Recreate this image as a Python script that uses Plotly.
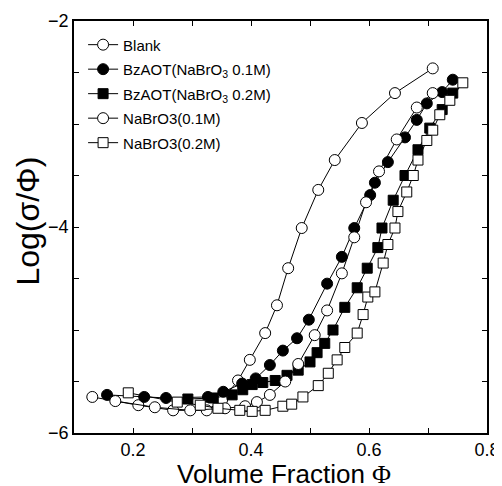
import plotly.graph_objects as go

# ---- data ----
blank_x = [0.131, 0.209, 0.268, 0.325, 0.351, 0.378, 0.398, 0.424, 0.444, 0.463,
           0.486, 0.514, 0.542, 0.588, 0.644, 0.708]
blank_y = [-5.65, -5.73, -5.78, -5.78, -5.68, -5.49, -5.29, -5.03, -4.76, -4.40,
           -4.01, -3.64, -3.35, -2.99, -2.70, -2.46]

bz1_x = [0.156, 0.219, 0.256, 0.327, 0.353, 0.385, 0.408, 0.432, 0.454, 0.478,
         0.498, 0.529, 0.554, 0.575, 0.602, 0.610, 0.632, 0.661, 0.681, 0.698,
         0.724, 0.742]
bz1_y = [-5.63, -5.65, -5.66, -5.65, -5.60, -5.52, -5.47, -5.34, -5.20, -5.08,
         -4.90, -4.55, -4.29, -4.01, -3.69, -3.57, -3.37, -3.13, -2.96, -2.80,
         -2.69, -2.57]

bz2_x = [0.293, 0.336, 0.368, 0.386, 0.402, 0.420, 0.441, 0.461, 0.480, 0.500,
         0.512, 0.525, 0.539, 0.559, 0.580, 0.597, 0.615, 0.622, 0.641, 0.661,
         0.683, 0.703, 0.724, 0.742]
bz2_y = [-5.67, -5.66, -5.63, -5.58, -5.53, -5.51, -5.49, -5.44, -5.39, -5.31,
         -5.22, -5.13, -5.00, -4.78, -4.59, -4.40, -4.20, -4.01, -3.74, -3.50,
         -3.25, -3.04, -2.86, -2.70]

na1_x = [0.170, 0.237, 0.297, 0.356, 0.390, 0.410, 0.432, 0.458, 0.480, 0.508,
         0.529, 0.554, 0.575, 0.595, 0.617, 0.647, 0.681, 0.708]
na1_y = [-5.69, -5.75, -5.78, -5.76, -5.74, -5.70, -5.63, -5.50, -5.33, -5.05,
         -4.81, -4.45, -4.10, -3.76, -3.46, -3.15, -2.84, -2.70]

na2_x = [0.192, 0.275, 0.314, 0.344, 0.381, 0.402, 0.424, 0.454, 0.469, 0.488,
         0.514, 0.531, 0.546, 0.559, 0.580, 0.590, 0.598, 0.610, 0.624, 0.632,
         0.644, 0.649, 0.664, 0.675, 0.683, 0.698, 0.708, 0.720, 0.737, 0.759]
na2_y = [-5.61, -5.70, -5.73, -5.76, -5.78, -5.79, -5.78, -5.74, -5.72, -5.65,
         -5.54, -5.42, -5.29, -5.17, -5.03, -4.85, -4.68, -4.63, -4.35, -4.17,
         -4.01, -3.85, -3.66, -3.50, -3.35, -3.16, -3.06, -2.91, -2.77, -2.60]

names = ["Blank", "BzAOT(NaBrO<sub>3</sub> 0.1M)", "BzAOT(NaBrO<sub>3</sub> 0.2M)",
         "NaBrO3(0.1M)", "NaBrO3(0.2M)"]

x_ticks = [0.2, 0.4, 0.6, 0.8]
y_ticks = [-6, -4, -2]

x_title = "Volume Fraction <span style='font-family:Liberation Serif'>Φ</span>"
y_title = "Log(σ/Φ)"

series = [
    (blank_x, blank_y, "circle", "white"),
    (bz1_x, bz1_y, "circle", "black"),
    (bz2_x, bz2_y, "square", "black"),
    (na1_x, na1_y, "circle", "white"),
    (na2_x, na2_y, "square", "white"),
]

fig = go.Figure()
for i, ((xs, ys, sym, fill), nm) in enumerate(zip(series, names)):
    fig.add_trace(go.Scatter(
        x=xs, y=ys, name=nm, mode="lines+markers", legendgroup=f"g{i}",
        line=dict(color="black", width=1),
        marker=dict(symbol=sym, size=11 if sym == "circle" else 10, color=fill,
                    line=dict(color="black", width=1)),
    ))

axis_common = dict(
    showline=True, linecolor="black", linewidth=1.5, mirror="ticks",
    ticks="inside", ticklen=5, tickwidth=1, tickcolor="black",
    showgrid=False, zeroline=False, automargin=False,
    tickfont=dict(family="Liberation Sans, Arial", size=18, color="black"),
)

fig.update_layout(
    width=494, height=478,
    margin=dict(l=66, r=15, t=13, b=53),
    paper_bgcolor="white", plot_bgcolor="white",
    font=dict(family="Liberation Sans, Arial", color="black"),
    showlegend=True,
    legend=dict(x=0.022, y=0.982, xanchor="left", yanchor="top",
                bgcolor="rgba(0,0,0,0)", borderwidth=0,
                font=dict(size=15, color="black"), tracegroupgap=2),
    annotations=[
        dict(text=x_title, xref="paper", yref="paper", x=0.508, y=-0.099,
             xanchor="center", yanchor="middle", showarrow=False,
             font=dict(size=26, color="black")),
        dict(text=y_title, xref="paper", yref="paper", x=-0.112, y=0.515,
             xanchor="center", yanchor="middle", showarrow=False, textangle=-90,
             font=dict(size=32, color="black")),
    ],
)
fig.update_xaxes(range=[0.1, 0.8], tickvals=x_ticks, ticktext=[str(v) for v in x_ticks],
                 minor=dict(dtick=0.1, tick0=0.1, ticks="inside", ticklen=5, tickcolor="black"),
                 **axis_common)
fig.update_yaxes(range=[-6, -2], tickvals=y_ticks, ticktext=["\u22126", "\u22124", "\u22122"],
                 minor=dict(dtick=0.5, tick0=-6, ticks="inside", ticklen=5, tickcolor="black"),
                 **axis_common)

fig.write_html("out.html")
